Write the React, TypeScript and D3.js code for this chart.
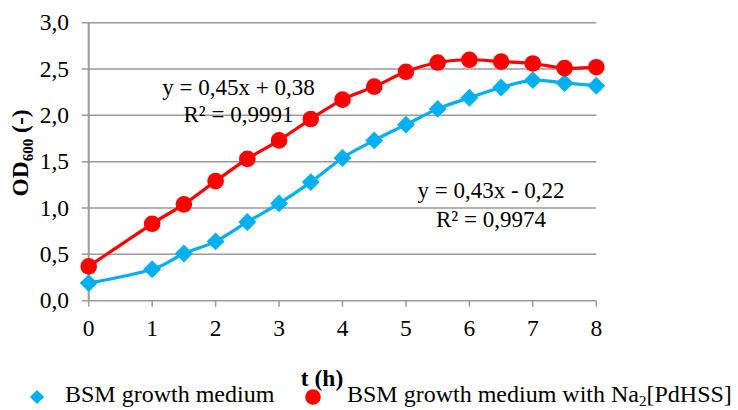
import * as d3 from "d3";
import { useEffect, useRef } from "react";

// time points (h)
const hours = [0, 1, 1.5, 2, 2.5, 3, 3.5, 4, 4.5, 5, 5.5, 6, 6.5, 7, 7.5, 8];
// OD600 - BSM growth medium
const bsmValues = [0.19, 0.34, 0.51, 0.64, 0.85, 1.05, 1.28, 1.54, 1.73, 1.9, 2.07, 2.19, 2.3, 2.38, 2.35, 2.32];
// OD600 - BSM growth medium with Na2[PdHSS]
const pdValues = [0.37, 0.83, 1.04, 1.29, 1.53, 1.73, 1.96, 2.17, 2.31, 2.47, 2.57, 2.6, 2.58, 2.56, 2.51, 2.52];

const xTicks = [0, 1, 2, 3, 4, 5, 6, 7, 8];
const yTicks = [0, 0.5, 1, 1.5, 2, 2.5, 3];

const seriesNames = ["BSM growth medium", "BSM growth medium with Na"];

const width = 738;
const height = 410;
const margin = { top: 22.7, right: 141.7, bottom: 109.3, left: 88.7 };
const FONT = "Liberation Serif, Times New Roman, Tinos, DejaVu Serif, serif";
const BLUE = "#00B0F0";
const RED = "#FF0000";
const GRID = "#9a9a9a";

export default function App() {
  const svgRef = useRef<SVGSVGElement | null>(null);

  useEffect(() => {
    const svg = d3.select(svgRef.current);
    svg.selectAll("*").remove();

    const x = d3
      .scaleLinear()
      .domain([0, 8])
      .range([margin.left, width - margin.right]);
    const y = d3
      .scaleLinear()
      .domain([0, 3])
      .range([height - margin.bottom, margin.top]);

    const g = svg.append("g").attr("font-family", FONT).attr("fill", "#000");

    // gridlines + y ticks
    g.append("g")
      .selectAll("line")
      .data(yTicks)
      .join("line")
      .attr("x1", margin.left - 7)
      .attr("x2", width - margin.right)
      .attr("y1", (d) => y(d))
      .attr("y2", (d) => y(d))
      .attr("stroke", GRID)
      .attr("stroke-width", 1.5);

    g.append("g")
      .selectAll("text")
      .data(yTicks)
      .join("text")
      .attr("x", 69)
      .attr("y", (d) => y(d) + 7.5)
      .attr("text-anchor", "end")
      .attr("font-size", 23.5)
      .text((d) => d3.format(".1f")(d).replace(".", ","));

    // y axis line
    g.append("line")
      .attr("x1", x(0))
      .attr("x2", x(0))
      .attr("y1", y(3))
      .attr("y2", y(0))
      .attr("stroke", GRID)
      .attr("stroke-width", 2);

    // x ticks
    g.append("g")
      .selectAll("line")
      .data(xTicks)
      .join("line")
      .attr("x1", (d) => x(d))
      .attr("x2", (d) => x(d))
      .attr("y1", y(0))
      .attr("y2", y(0) + 6)
      .attr("stroke", GRID)
      .attr("stroke-width", 1.5);

    g.append("g")
      .selectAll("text")
      .data(xTicks)
      .join("text")
      .attr("x", (d) => x(d))
      .attr("y", 336)
      .attr("text-anchor", "middle")
      .attr("font-size", 23.5)
      .text((d) => d);

    // axis titles
    g.append("text")
      .attr("x", 322)
      .attr("y", 386)
      .attr("text-anchor", "middle")
      .attr("font-size", 23.5)
      .attr("font-weight", "bold")
      .text("t (h)");

    const yTitle = g
      .append("text")
      .attr("transform", "translate(28,153) rotate(-90)")
      .attr("text-anchor", "middle")
      .attr("font-size", 23.5)
      .attr("font-weight", "bold");
    yTitle.append("tspan").text("OD");
    yTitle.append("tspan").attr("dy", 5).attr("font-size", 15).text("600");
    yTitle.append("tspan").attr("dy", -5).text(" (-)");

    // lines
    const line = d3
      .line<number>()
      .x((_, i) => x(hours[i]))
      .y((d) => y(d))
      .curve(d3.curveCardinal.tension(0));

    g.append("path")
      .attr("d", line(bsmValues))
      .attr("fill", "none")
      .attr("stroke", BLUE)
      .attr("stroke-width", 3.2);

    const diamond = d3.symbol().type(d3.symbolSquare).size(160);

    g.append("g")
      .selectAll("path")
      .data(bsmValues)
      .join("path")
      .attr("d", diamond)
      .attr("transform", (d, i) => `translate(${x(hours[i])},${y(d)}) rotate(45)`)
      .attr("fill", BLUE);

    g.append("path")
      .attr("d", line(pdValues))
      .attr("fill", "none")
      .attr("stroke", RED)
      .attr("stroke-width", 3.2);

    g.append("g")
      .selectAll("circle")
      .data(pdValues)
      .join("circle")
      .attr("cx", (_, i) => x(hours[i]))
      .attr("cy", (d) => y(d))
      .attr("r", 8.3)
      .attr("fill", RED);

    // trendline labels
    const eq = [
      { text: "y = 0,45x + 0,38", x: 238.5, y: 94.5 },
      { text: "R² = 0,9991", x: 238.5, y: 121.5 },
      { text: "y = 0,43x - 0,22", x: 491, y: 198 },
      { text: "R² = 0,9974", x: 491, y: 226.5 },
    ];
    g.append("g")
      .selectAll("text")
      .data(eq)
      .join("text")
      .attr("x", (d) => d.x)
      .attr("y", (d) => d.y)
      .attr("text-anchor", "middle")
      .attr("font-size", 23)
      .text((d) => d.text);

    // legend
    const legend = g.append("g");
    legend
      .append("path")
      .attr("d", d3.symbol().type(d3.symbolSquare).size(100)())
      .attr("transform", "translate(37,397) rotate(45)")
      .attr("fill", BLUE);
    legend
      .append("text")
      .attr("x", 65)
      .attr("y", 402)
      .attr("font-size", 24)
      .text(seriesNames[0]);
    legend
      .append("circle")
      .attr("cx", 313)
      .attr("cy", 397)
      .attr("r", 7.8)
      .attr("fill", RED);
    const lt = legend
      .append("text")
      .attr("x", 347)
      .attr("y", 402)
      .attr("font-size", 24);
    lt.append("tspan").text(seriesNames[1]);
    lt.append("tspan").attr("dy", 4).attr("font-size", 15).text("2");
    lt.append("tspan").attr("dy", -4).text("[PdHSS]");
  }, []);

  return (
    <svg
      ref={svgRef}
      width={width}
      height={height}
      style={{ position: "absolute", left: 0, top: 0, background: "#fff" }}
    />
  );
}
